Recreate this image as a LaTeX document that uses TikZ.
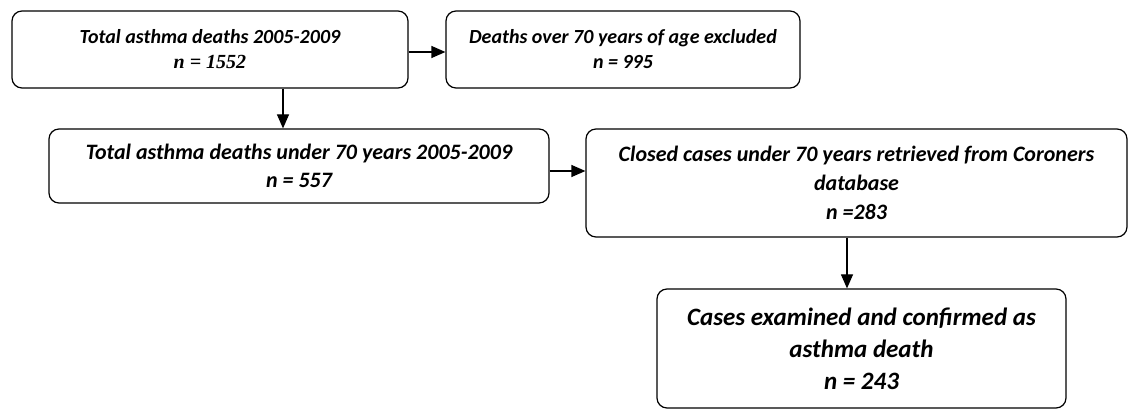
\documentclass[tikz,border=0pt]{standalone}
\usepackage{fontspec}
\setmainfont{Carlito}
\newfontfamily\numfont{Liberation Serif}
\usetikzlibrary{arrows.meta}
\begin{document}
\begin{tikzpicture}[box/.style={draw,rounded corners=10pt,line width=1.2pt,align=center,inner sep=0pt},line width=1.2pt,x=1pt,y=1pt,>={Triangle[length=14pt,width=12pt]}]
\useasboundingbox (0,0) rectangle (1128,409);

\node[box,minimum width=396pt,minimum height=77pt,font=\bfseries\itshape\fontsize{20}{25}\selectfont] (total) at (210,359.5) {Total asthma deaths 2005-2009\\ {\numfont n = 1552}};

\node[box,minimum width=354pt,minimum height=77pt,font=\bfseries\itshape\fontsize{20}{25}\selectfont] (excl) at (623,359.5) {Deaths over 70 years of age excluded\\ n = 995};

\node[box,minimum width=500pt,minimum height=74pt,font=\bfseries\itshape\fontsize{22}{28}\selectfont] (under) at (299,243) {Total asthma deaths under 70 years 2005-2009\\ n = 557};

\node[box,minimum width=541pt,minimum height=108pt,font=\bfseries\itshape\fontsize{22}{29}\selectfont] (closed) at (856.5,226) {Closed cases under 70 years retrieved from Coroners\\ database\\ n =283};

\node[box,minimum width=409pt,minimum height=119pt,font=\bfseries\itshape\fontsize{25}{32}\selectfont] (conf) at (861.5,60.5) {Cases examined and confirmed as\\ asthma death\\ n = 243};

\draw[->] ([yshift=-2.5pt]total.east) -- ([yshift=-2.5pt]total.east -| excl.west);
\draw[->] ([xshift=73pt]total.south) -- ([xshift=73pt]total.south |- under.north);
\draw[->] ([yshift=-5pt]under.east) -- ([yshift=-5pt]under.east -| closed.west);
\draw[->] ([xshift=-9.5pt]closed.south) -- ([xshift=-9.5pt]closed.south |- conf.north);

\end{tikzpicture}
\end{document}
